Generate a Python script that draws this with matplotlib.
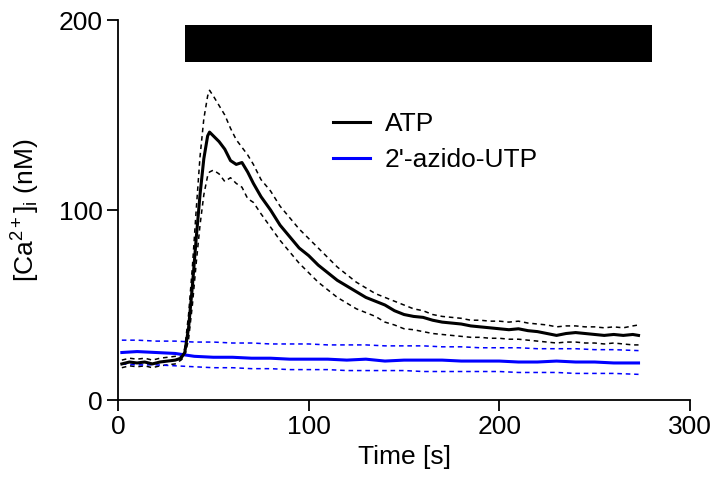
import matplotlib
matplotlib.use("Agg")
import matplotlib.pyplot as plt

plt.rcParams['font.family'] = ['Liberation Sans', 'DejaVu Sans']
plt.rcParams['mathtext.fontset'] = 'custom'
plt.rcParams['mathtext.rm'] = 'Liberation Sans'
plt.rcParams['mathtext.it'] = 'Liberation Sans'

# time points (s)
t_atp = [2, 6, 10, 14, 18, 22, 26, 30, 33, 35, 37, 39, 41, 43, 45, 47, 48,
         50, 53, 56, 59, 62, 65, 68, 71, 75, 80, 85, 90, 95, 100,
         105, 110, 115, 120, 125, 130, 135, 140, 145, 150, 155, 160, 165, 170,
         175, 180, 185, 190, 195, 200, 205, 210, 215, 220, 225, 230, 235, 240,
         245, 250, 255, 260, 265, 270, 273]
atp_mean = [19, 20, 19.5, 20, 19, 20, 20.5, 21, 22, 25, 38, 60, 85, 108, 127, 139, 141,
            139, 136, 132, 126, 124, 125, 120, 114, 107, 100, 92, 86, 80, 76,
            71, 67, 63, 60, 57, 54, 52, 50, 47, 45, 44, 43.5, 42, 41,
            40.5, 40, 39, 38.5, 38, 37.5, 37, 37.5, 36.5, 36, 35, 34, 35, 35.5,
            35, 34.5, 34, 34.5, 34, 34.5, 34]
atp_upper = [21, 22, 21.5, 22, 21, 22, 22.5, 23, 23, 27, 45, 70, 100, 128, 148, 160, 163,
             160, 155, 150, 143, 137, 133, 129, 124, 116, 110, 102, 96, 90, 85,
             80, 75, 70, 66, 62, 59, 56, 54, 52, 50, 48, 47, 45, 44,
             43.5, 43, 42, 42, 41.5, 41.5, 41, 41.5, 40.5, 40, 39.5, 38.5, 39, 39,
             38.5, 38.5, 38, 38.5, 38, 39, 39.5]
atp_lower = [17, 18, 17.5, 18, 17, 18, 18.5, 19, 21, 23, 32, 50, 72, 92, 108, 118, 120,
             121, 119, 115, 117, 114, 112, 106, 104, 98, 91, 84, 78, 72, 67,
             62, 58, 54, 51, 48, 46, 44, 41, 39.5, 37.5, 37, 36, 35, 34.5,
             34, 33.5, 33, 33, 32.5, 32.5, 32, 32, 31.5, 31, 30.5, 30, 30.5, 30.5,
             30, 30, 29.5, 30, 29.5, 29, 29]

t_utp = [2, 10, 20, 30, 40, 50, 60, 70, 80, 90, 100, 110, 120, 130, 140, 150,
         160, 170, 180, 190, 200, 210, 220, 230, 240, 250, 260, 273]
utp_mean = [25, 25.5, 25, 24.5, 23, 22.5, 22.5, 22, 22, 21.5, 21.5, 21.5, 21, 21.5, 20.5, 21,
            21, 21, 20.5, 20.5, 20.5, 20, 20, 20.5, 20, 20, 19.5, 19.5]
utp_upper = [31.5, 31.5, 31, 31, 30.5, 30.5, 30, 30, 29.5, 29.5, 29.5, 29, 29, 29, 28.5, 28.5,
             28.5, 28, 28, 27.5, 27.5, 27.5, 27, 27, 27, 26.5, 26.5, 26]
utp_lower = [19, 18.5, 18.5, 18, 17.5, 17, 17, 16.5, 16.5, 16, 16, 16, 15.5, 15.5, 15.5, 15.5,
             15, 15, 15, 15, 15, 14.5, 14.5, 14.5, 14, 14, 14, 13.5]

stim_start, stim_end = 35, 280
stim_level, stim_height = 187.7, 19.5

fig = plt.figure(figsize=(7.21, 4.88), dpi=100)
ax = fig.add_axes([0.1637, 0.1803, 0.7933, 0.7787])

ax.barh(stim_level, stim_end - stim_start, left=stim_start, height=stim_height, color="black")

dash = (0, (3, 2.5))
ax.plot(t_atp, atp_upper, color="black", lw=1.1, ls=dash)
ax.plot(t_atp, atp_lower, color="black", lw=1.1, ls=dash)
ax.plot(t_utp, utp_upper, color="blue", lw=1.1, ls=dash)
ax.plot(t_utp, utp_lower, color="blue", lw=1.1, ls=dash)
ax.plot(t_utp, utp_mean, color="blue", lw=2.2, label="2'-azido-UTP")
ax.plot(t_atp, atp_mean, color="black", lw=2.2, label="ATP")

h, l = ax.get_legend_handles_labels()
ax.legend(h[::-1], l[::-1], loc="upper left", bbox_to_anchor=(0.376, 0.757), frameon=False,
          fontsize=19, borderpad=0, borderaxespad=0, handlelength=1.4,
          handletextpad=0.55, labelspacing=0.45)

ax.set_xlim(0, 300)
ax.set_ylim(0, 200)
ax.set_xticks([0, 100, 200, 300])
ax.set_yticks([0, 100, 200])
ax.spines['top'].set_visible(False)
ax.spines['right'].set_visible(False)
for s in ('left', 'bottom'):
    ax.spines[s].set_linewidth(1.3)
ax.tick_params(direction='out', length=8, width=1.3, labelsize=19, pad=3)
ax.set_xlabel("Time [s]", fontsize=19)
ax.set_ylabel("[Ca$^{2+}$]$_{i}$ (nM)", fontsize=19, labelpad=12)

fig.savefig("out.png", dpi=100)
